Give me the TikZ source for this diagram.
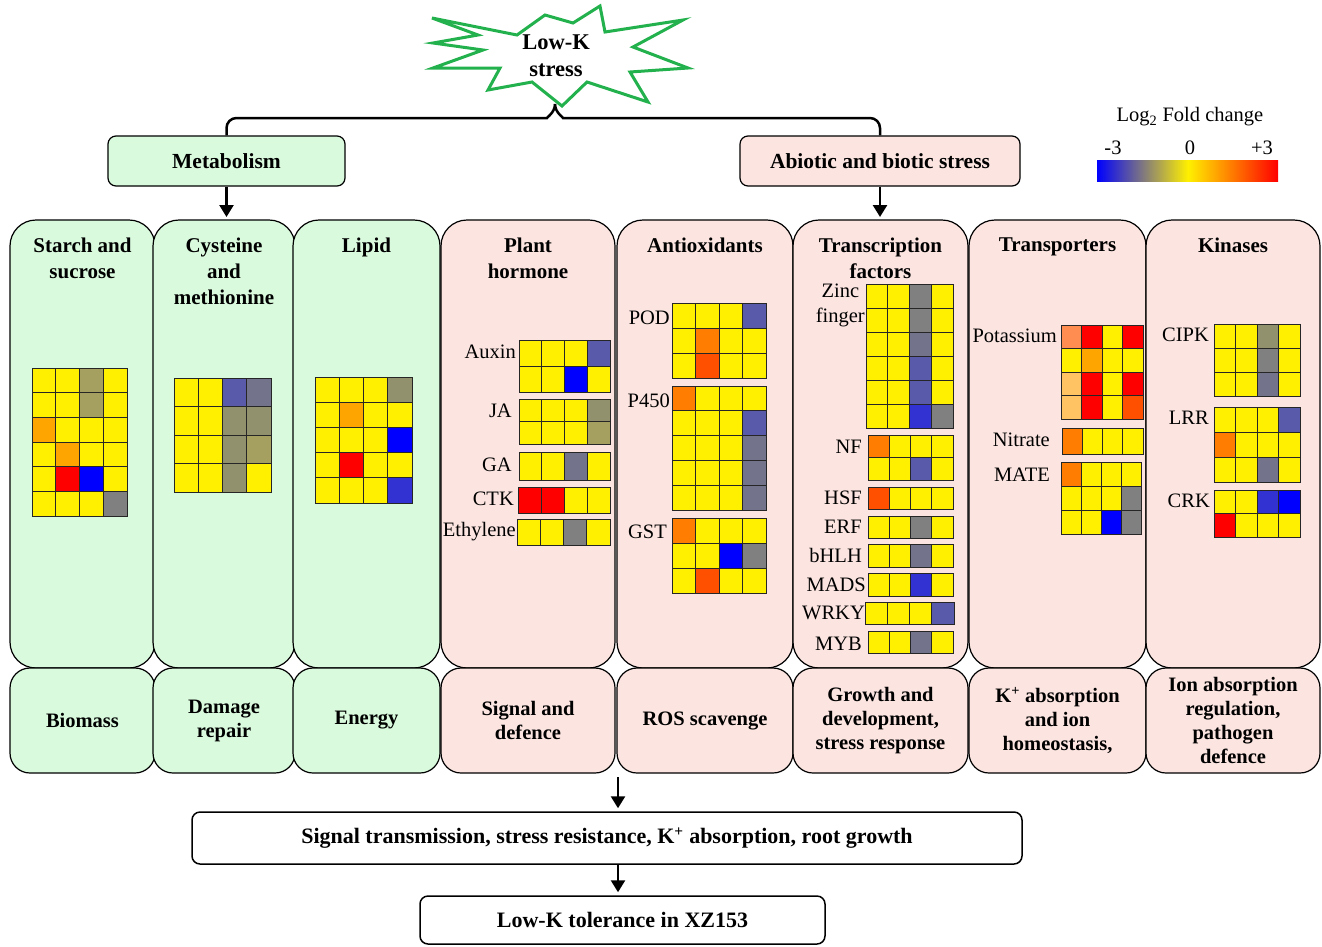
\documentclass[tikz,border=0pt]{standalone}
\usepackage{fontspec}
\setmainfont{Liberation Serif}
\usetikzlibrary{positioning, arrows.meta, calc}

% heatmap colours (log2 fold change)
\definecolor{hY}{RGB}{255,240,0}
\definecolor{hO}{RGB}{255,165,0}
\definecolor{hR}{RGB}{255,0,0}
\definecolor{hB}{RGB}{0,0,255}
\definecolor{hG}{RGB}{128,128,128}
\definecolor{hOl}{RGB}{165,160,95}
\definecolor{hOg}{RGB}{145,145,110}
\definecolor{hGs}{RGB}{115,115,140}
\definecolor{hSl}{RGB}{90,90,170}
\definecolor{hMB}{RGB}{50,50,210}
\definecolor{hDO}{RGB}{255,125,0}
\definecolor{hRO}{RGB}{255,80,0}
\definecolor{hLO}{RGB}{255,195,100}
\definecolor{hSa}{RGB}{255,140,80}
\definecolor{panelgreen}{RGB}{218,250,222}
\definecolor{panelpink}{RGB}{252,229,225}
\definecolor{burstgreen}{RGB}{34,177,76}

% heatmap: x, y (top left), cell width, cell height, rows
\newcommand{\hmap}[5]{%
  \foreach \hrw [count=\i] in {#5} {%
    \foreach \hcol [count=\j] in \hrw {%
      \draw[cell, fill=h\hcol] ({#1+(\j-1)*#3}, {#2+(\i-1)*#4}) rectangle ++(#3,#4);
    }
  }%
}

\begin{document}
\begin{tikzpicture}[
    x=1pt, y=-1pt,
    font=\fontsize{20.5}{25}\selectfont,
    every node/.style={align=center, inner sep=0pt},
    gpanel/.style={draw, line width=1.2pt, fill=panelgreen, outer sep=0pt},
    ppanel/.style={draw, line width=1.2pt, fill=panelpink, outer sep=0pt},
    toppanel/.style={rounded corners=26pt, minimum height=448pt},
    botpanel/.style={rounded corners=20pt, minimum height=105pt, font=\fontsize{20.5}{24}\selectfont\bfseries},
    coltitle/.style={font=\fontsize{21}{26}\selectfont\bfseries},
    hlab/.style={anchor=east},
    cell/.style={draw=black!85, line width=0.9pt},
    headbox/.style={draw, line width=1.2pt, rounded corners=8pt, minimum height=50pt, font=\fontsize{21.5}{24}\selectfont\bfseries},
    outbox/.style={draw, line width=1.5pt, rounded corners=8pt, fill=white, font=\fontsize{22}{24}\selectfont\bfseries},
    conn/.style={line width=2.5pt},
    arr/.style={-{Triangle[length=12pt, width=14pt]}, line width=2.5pt, shorten >=3pt},
    burst/.style={draw=burstgreen, line width=3pt, fill=white, line join=miter}
]
\useasboundingbox (0,0) rectangle (1322,946);

% --------------------------------------------------------------------------
% Stress burst and the two branches.
% --------------------------------------------------------------------------
\draw[burst] (600,6) -- (605,32) -- (683,20) -- (633,47) -- (688,68) -- (630,72)
    -- (648,102) -- (587,82) -- (562,106) -- (532,82) -- (488,90) -- (500,68)
    -- (433,68) -- (483,50) -- (433,43) -- (478,35) -- (432,18) -- (517,35)
    -- (545,15) -- (573,23) -- cycle;
\node[font=\fontsize{22.5}{27}\selectfont\bfseries] (lowk) at (556,56) {Low-K\\stress};

\node[headbox, fill=panelgreen, minimum width=237pt] (meta) at (226.5,161) {Metabolism};
\node[headbox, fill=panelpink, minimum width=280pt] (abio) at (880,161) {Abiotic and biotic stress};

\coordinate (brc) at (555,104);
\draw[conn, rounded corners=10pt] (meta.north) |- (537,118) to[out=0, in=-90] (brc);
\draw[conn, rounded corners=10pt] (abio.north) |- (573,118) to[out=180, in=-90] (brc);

% Legend.
\node (lgT) at (1190,117) {Log\textsubscript{2} Fold change};
\node (lgMin) at (1113,148) {-3};
\node (lgMid) at (1190,148) {0};
\node (lgMax) at (1262,148) {+3};
\shade[left color=hB, right color=hY] (1097,160) rectangle (1188,181);
\shade[left color=hY, right color=hR] (1188,160) rectangle (1278,181);

% --------------------------------------------------------------------------
% Category panels and their outcomes.
% --------------------------------------------------------------------------
\node[gpanel, toppanel, minimum width=145pt] (starch) at (82.5,444) {};
\node[gpanel, toppanel, minimum width=142pt] (cyst) at (224,444) {};
\node[gpanel, toppanel, minimum width=147pt] (lipid) at (366.5,444) {};
\node[ppanel, toppanel, minimum width=174pt] (horm) at (528,444) {};
\node[ppanel, toppanel, minimum width=176pt] (antiox) at (705,444) {};
\node[ppanel, toppanel, minimum width=175pt] (tf) at (880.5,444) {};
\node[ppanel, toppanel, minimum width=177pt] (trans) at (1057.5,444) {};
\node[ppanel, toppanel, minimum width=174pt] (kin) at (1233,444) {};

\node[gpanel, botpanel, minimum width=145pt, below=0pt of starch] (bio) {Biomass};
\node[gpanel, botpanel, minimum width=142pt, below=0pt of cyst] (dmg) {Damage\\repair};
\node[gpanel, botpanel, minimum width=147pt, below=0pt of lipid] (nrg) {Energy};
\node[ppanel, botpanel, minimum width=174pt, below=0pt of horm] (sig) {Signal and\\defence};
\node[ppanel, botpanel, minimum width=176pt, below=0pt of antiox] (ros) {ROS scavenge};
\node[ppanel, botpanel, minimum width=175pt, below=0pt of tf] (grow) {Growth and\\development,\\stress response};
\node[ppanel, botpanel, minimum width=177pt, below=0pt of trans] (kabs) {K\textsuperscript{+} absorption\\and ion\\homeostasis,};
\node[ppanel, botpanel, minimum width=174pt, below=0pt of kin] (ion) {Ion absorption\\regulation,\\pathogen\\defence};

\node[coltitle, below=18pt of starch.north] (starchT) {Starch and\\sucrose};
\node[coltitle, below=18pt of cyst.north] (cystT) {Cysteine\\and\\methionine};
\node[coltitle, below=18pt of lipid.north] (lipidT) {Lipid};
\node[coltitle, below=18pt of horm.north] (hormT) {Plant\\hormone};
\node[coltitle, below=18pt of antiox.north] (antioxT) {Antioxidants};
\node[coltitle, below=18pt of tf.north] (tfT) {Transcription\\factors};
\node[coltitle, below=18pt of trans.north] (transT) {Transporters};
\node[coltitle, below=18pt of kin.north] (kinT) {Kinases};

\draw[arr] (meta.south) -- (meta.south |- cyst.north);
\draw[arr] (abio.south) -- (abio.south |- tf.north);

% --------------------------------------------------------------------------
% Heatmaps, one row per gene.
% --------------------------------------------------------------------------
\hmap{32}{368}{23.75}{24.7}{{Y,Y,Ol,Y},{Y,Y,Ol,Y},{O,Y,Y,Y},{Y,O,Y,Y},{Y,R,B,Y},{Y,Y,Y,G}}
\hmap{174}{378}{24.25}{28.5}{{Y,Y,Sl,Gs},{Y,Y,Og,Og},{Y,Y,Og,Ol},{Y,Y,Og,Y}}
\hmap{315}{377}{24.25}{25.2}{{Y,Y,Y,Og},{Y,O,Y,Y},{Y,Y,Y,B},{Y,R,Y,Y},{Y,Y,Y,MB}}

% plant hormone
\hmap{519}{340}{22.75}{26}{{Y,Y,Y,Sl},{Y,Y,B,Y}}
\hmap{519}{399}{22.75}{22.5}{{Y,Y,Y,Og},{Y,Y,Y,Ol}}
\hmap{519}{452}{22.75}{28}{{Y,Y,Gs,Y}}
\hmap{518}{487}{23}{26}{{R,R,Y,Y}}
\hmap{517}{519}{23.25}{26}{{Y,Y,G,Y}}
\node[hlab] (auxL) at (516,352) {Auxin};
\node[hlab] (jaL) at (512,411) {JA};
\node[hlab] (gaL) at (512,465) {GA};
\node[hlab] (ctkL) at (514,499) {CTK};
\node[hlab] (ethL) at (516,532) {Ethylene};

% antioxidants
\hmap{672}{303}{23.5}{25}{{Y,Y,Y,Sl},{Y,DO,Y,Y},{Y,RO,Y,Y}}
\hmap{672}{386}{23.5}{24.8}{{DO,Y,Y,Y},{Y,Y,Y,Sl},{Y,Y,Y,Gs},{Y,Y,Y,Gs},{Y,Y,Y,Gs}}
\hmap{672}{518}{23.5}{25}{{DO,Y,Y,Y},{Y,Y,B,G},{Y,RO,Y,Y}}
\node[hlab] (podL) at (670,318) {POD};
\node[hlab] (p450L) at (670,401) {P450};
\node[hlab] (gstL) at (667,532) {GST};

% transcription factors
\hmap{866}{284}{21.75}{24}{{Y,Y,G,Y},{Y,Y,G,Y},{Y,Y,Gs,Y},{Y,Y,Sl,Y},{Y,Y,Sl,Y},{Y,Y,MB,G}}
\hmap{868}{435}{21.25}{22.5}{{DO,Y,Y,Y},{Y,Y,Sl,Y}}
\hmap{868}{487}{21.25}{22}{{RO,Y,Y,Y}}
\hmap{868}{516}{21.25}{22}{{Y,Y,G,Y}}
\hmap{868}{544}{21.25}{23}{{Y,Y,Gs,Y}}
\hmap{868}{573}{21.25}{23}{{Y,Y,MB,Y}}
\hmap{865}{602}{22.25}{22}{{Y,Y,Y,Sl}}
\hmap{868}{631}{21.25}{22}{{Y,Y,Gs,Y}}
\node[hlab] (znL) at (865,305) {Zinc\\finger};
\node[hlab] (nfL) at (862,447) {NF};
\node[hlab] (hsfL) at (862,498) {HSF};
\node[hlab] (erfL) at (862,527) {ERF};
\node[hlab] (bhlhL) at (862,555) {bHLH};
\node[hlab] (madsL) at (866,585) {MADS};
\node[hlab] (wrkyL) at (865,613) {WRKY};
\node[hlab] (mybL) at (862,644) {MYB};

% transporters
\hmap{1061}{325}{20.5}{23.5}{{Sa,R,Y,R},{Y,O,Y,Y},{LO,R,Y,R},{LO,R,Y,RO}}
\hmap{1062}{428}{20.25}{26}{{DO,Y,Y,Y}}
\hmap{1061}{462}{20}{24}{{DO,Y,Y,Y},{Y,Y,Y,G},{Y,Y,B,G}}
\node[hlab] (kL) at (1057,336) {Potassium};
\node[hlab] (no3L) at (1050,440) {Nitrate};
\node[hlab] (mateL) at (1050,475) {MATE};

% kinases
\hmap{1214}{324}{21.5}{24.3}{{Y,Y,Og,Y},{Y,Y,G,Y},{Y,Y,Gs,Y}}
\hmap{1214}{407}{21.5}{25}{{Y,Y,Y,Sl},{DO,Y,Y,Y},{Y,Y,Gs,Y}}
\hmap{1214}{490}{21.5}{23.5}{{Y,Y,MB,B},{R,Y,Y,Y}}
\node[hlab] (cipkL) at (1209,335) {CIPK};
\node[hlab] (lrrL) at (1209,418) {LRR};
\node[hlab] (crkL) at (1210,501) {CRK};

% --------------------------------------------------------------------------
% Overall outcome.
% --------------------------------------------------------------------------
\node[outbox, minimum width=830pt, minimum height=52pt] (sum) at (607,838)
    {Signal transmission, stress resistance, K\textsuperscript{+} absorption, root growth};
\node[outbox, minimum width=405pt, minimum height=48pt] (tol) at (622.5,920) {Low-K tolerance in XZ153};

\coordinate (split) at (618,777);
\draw[arr] (split) -- (split |- sum.north);
\draw[arr] (sum.south -| split) -- (split |- tol.north);

\end{tikzpicture}
\end{document}
